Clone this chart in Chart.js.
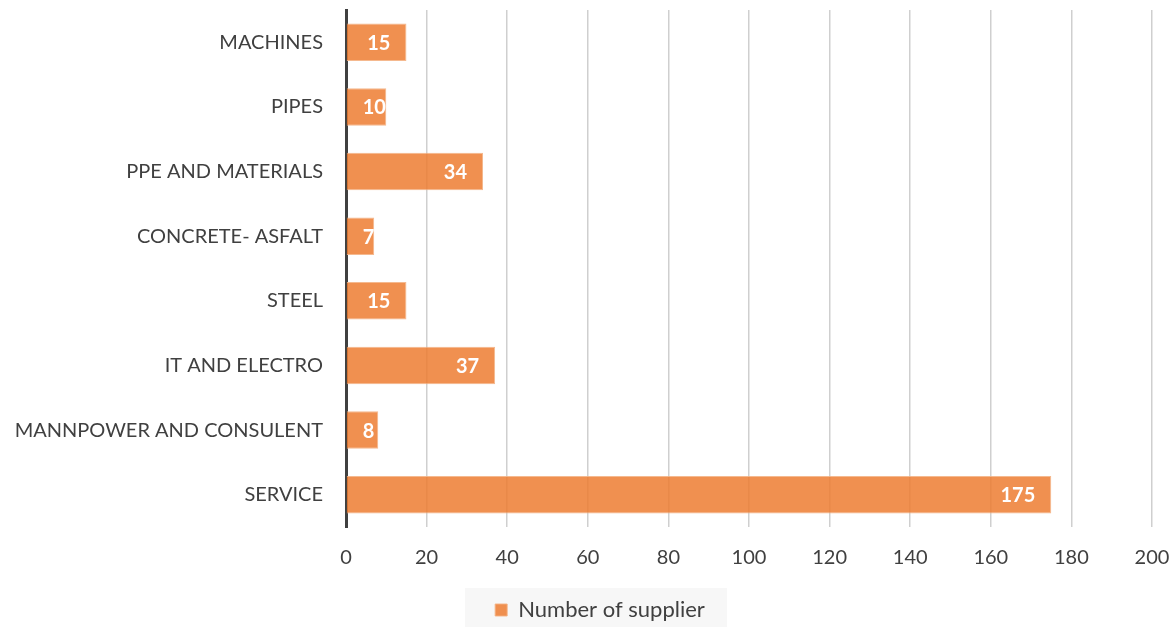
<!DOCTYPE html>
<html><head><meta charset="utf-8">
<script src="https://cdn.jsdelivr.net/npm/chart.js@4"></script>
<style>html,body{margin:0;padding:0;background:#fff;}#wrap{width:1172px;height:627px;}</style>
</head><body><div id="wrap"><canvas id="c" width="1172" height="627"></canvas></div>
<script>
const categories = ["MACHINES","PIPES","PPE AND MATERIALS","CONCRETE- ASFALT","STEEL","IT AND ELECTRO","MANNPOWER AND CONSULENT","SERVICE"];
const suppliers = [15,10,34,7,15,37,8,175];
const xTicks = [0,20,40,60,80,100,120,140,160,180,200];
const seriesName = "Number of supplier";
const FONT = "Lato";

const labelPlugin = {
  id:'barLabels',
  afterDatasetsDraw(chart){
    const ctx = chart.ctx;
    const meta = chart.getDatasetMeta(0);
    ctx.save();
    ctx.font = "bold 20px " + FONT;
    ctx.fillStyle = "#ffffff";
    ctx.textBaseline = "middle";
    ctx.textAlign = "left";
    meta.data.forEach((bar,i)=>{
      const t = String(suppliers[i]);
      const w = ctx.measureText(t).width;
      let right = Math.max(bar.x - 16, bar.base + 16 + w);
      ctx.fillText(t, right - w, bar.y + 1);
    });
    ctx.restore();
  }
};
const legendShift = {
  id:'legendShift',
  afterLayout(chart){
    const l = chart.legend;
    l.left += 24; l.right += 24; l.top += 4; l.bottom += 4;
  },
  beforeDraw(chart){
    const l = chart.legend, ctx = chart.ctx;
    const cx = (l.left + l.right) / 2;
    ctx.save();
    ctx.fillStyle = "#f7f7f7";
    ctx.fillRect(cx - 135, l.top - 1, 262, chart.height - l.top + 1);
    ctx.restore();
  }
};

new Chart(document.getElementById('c'), {
  type:'bar',
  data:{labels:categories, datasets:[{label:seriesName, data:suppliers, backgroundColor:"rgba(237,125,49,0.85)", borderColor:"rgba(244,177,131,0.9)", borderWidth:1, borderSkipped:'start', categoryPercentage:1, barPercentage:0.58}]},
  options:{
    indexAxis:'y', responsive:false, animation:false,
    layout:{padding:{left:0,right:20,top:10,bottom:0}},
    scales:{
      x:{min:0,max:200,
        afterBuildTicks(s){ s.ticks = xTicks.map(v=>({value:v})); },
        grid:{color:"#cfcfcf", lineWidth:1.5, drawTicks:false},
        border:{display:false},
        ticks:{color:"#404040", font:{family:FONT,size:20}, padding:19},
        afterFit(s){ s.height = 58; s.paddingLeft = 0; s.paddingRight = 0; }
      },
      y:{
        grid:{display:false},
        border:{display:true,color:"#404040",width:3},
        ticks:{color:"#404040", font:{family:FONT,size:20}, padding:15},
        afterFit(s){ s.width = 346; s.paddingTop = 0; s.paddingBottom = 0; }
      }
    },
    plugins:{
      legend:{position:'bottom', labels:{boxWidth:12, boxHeight:12, color:"#404040", font:{family:FONT,size:22}, padding:10}},
      tooltip:{enabled:false}
    }
  },
  plugins:[labelPlugin, legendShift]
});
</script></body></html>
